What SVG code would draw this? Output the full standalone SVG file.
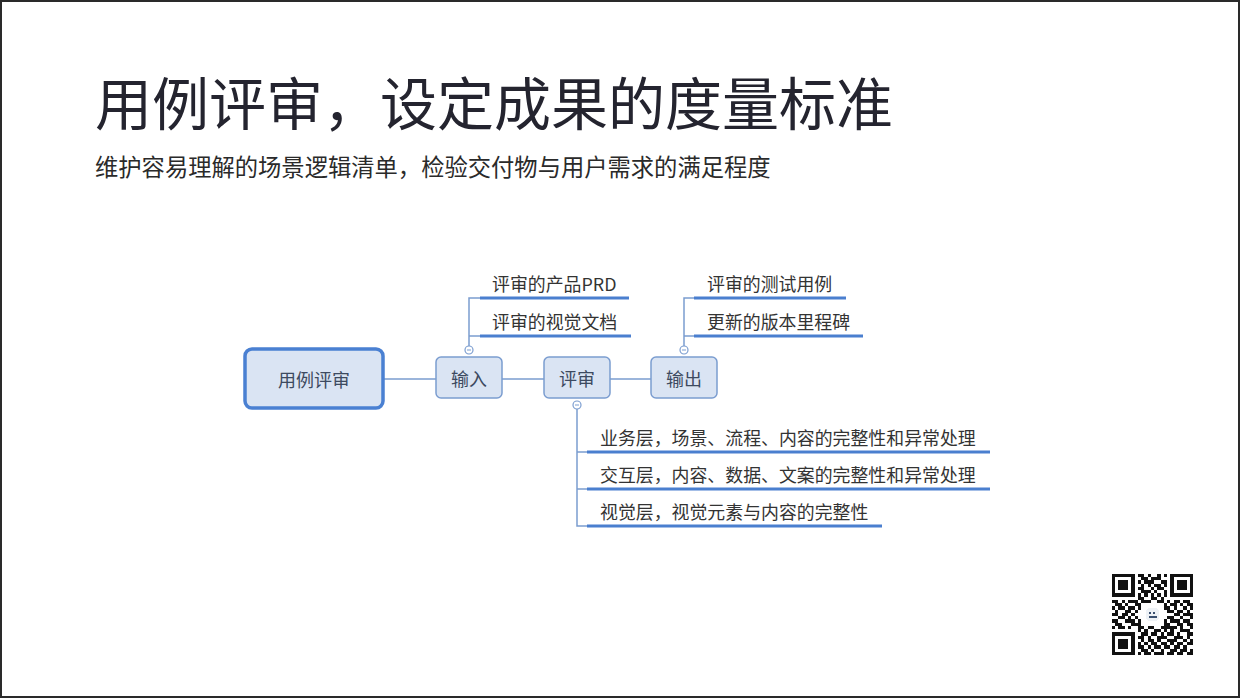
<svg xmlns="http://www.w3.org/2000/svg" width="1240" height="698" viewBox="0 0 1240 698">
<style>
.cjk{font-family:"Noto Sans CJK SC","Liberation Sans",sans-serif;}
.title{font-size:57px;fill:#24242f;}
.sub{font-size:23.3px;fill:#2a2a2a;}
.node rect{fill:#dae4f3;stroke:#7b9dd0;stroke-width:1.5;}
.node text{font-size:18px;fill:#3d4a60;text-anchor:middle;}
.main rect{stroke:#4a80d2;stroke-width:3.5;}
.lbl{font-size:17.9px;fill:#333;}
.thin{stroke:#7b9dd0;stroke-width:1.5;fill:none;}
.ul{stroke:#4a7fcf;stroke-width:3;}
.btn{fill:#fff;stroke:#7b9dd0;stroke-width:1.2;}
</style>
<rect x="0" y="0" width="1240" height="698" fill="#fff"/>
<rect x="1" y="1" width="1238" height="696" fill="none" stroke="#2a2a2a" stroke-width="2"/>

<text class="cjk title" x="95" y="125">用例评审，设定成果的度量标准</text>
<text class="cjk sub" x="95" y="176">维护容易理解的场景逻辑清单，检验交付物与用户需求的满足程度</text>

<g id="connectors">
  <path class="thin" d="M383 379H436M502 379H544M610 379H651"/>
  <path class="thin" d="M469 346V298H480M469 336H480"/>
  <path class="thin" d="M684 346V298H694M684 336H694"/>
  <path class="thin" d="M577 409V526H587M577 452H587M577 489H587"/>
  <g class="ul">
    <line x1="480" y1="298" x2="629" y2="298"/>
    <line x1="480" y1="336" x2="631" y2="336"/>
    <line x1="694" y1="298" x2="846" y2="298"/>
    <line x1="694" y1="336" x2="863" y2="336"/>
    <line x1="587" y1="452" x2="990" y2="452"/>
    <line x1="587" y1="489" x2="990" y2="489"/>
    <line x1="587" y1="526" x2="882" y2="526"/>
  </g>
  <g>
    <circle class="btn" cx="469" cy="350" r="4"/><line x1="467" y1="350" x2="471" y2="350" stroke="#7b9dd0" stroke-width="1"/>
    <circle class="btn" cx="684" cy="350" r="4"/><line x1="682" y1="350" x2="686" y2="350" stroke="#7b9dd0" stroke-width="1"/>
    <circle class="btn" cx="577" cy="405" r="4"/><line x1="575" y1="405" x2="579" y2="405" stroke="#7b9dd0" stroke-width="1"/>
  </g>
</g>

<g id="n-main" class="node main">
  <rect x="245" y="349" width="138" height="59" rx="7"/>
  <text class="cjk" x="314" y="387">用例评审</text>
</g>
<g id="n-input" class="node">
  <rect x="436" y="357" width="66" height="41" rx="5"/>
  <text class="cjk" x="469" y="386">输入</text>
</g>
<g id="n-review" class="node">
  <rect x="544" y="357" width="66" height="41" rx="5"/>
  <text class="cjk" x="577" y="386">评审</text>
</g>
<g id="n-output" class="node">
  <rect x="651" y="357" width="66" height="41" rx="5"/>
  <text class="cjk" x="684" y="386">输出</text>
</g>

<g id="l-prd"><text class="cjk lbl" x="492" y="291">评审的产品PRD</text></g>
<g id="l-visual"><text class="cjk lbl" x="492" y="329">评审的视觉文档</text></g>
<g id="l-test"><text class="cjk lbl" x="707" y="291">评审的测试用例</text></g>
<g id="l-version"><text class="cjk lbl" x="707" y="329">更新的版本里程碑</text></g>
<g id="l-biz"><text class="cjk lbl" x="600" y="445">业务层，场景、流程、内容的完整性和异常处理</text></g>
<g id="l-inter"><text class="cjk lbl" x="600" y="482">交互层，内容、数据、文案的完整性和异常处理</text></g>
<g id="l-vis"><text class="cjk lbl" x="600" y="519">视觉层，视觉元素与内容的完整性</text></g>

<g id="qr" transform="translate(1112 574) scale(3.24)" fill="#111" shape-rendering="crispEdges">
<path d="M0 0h7v1h-7zM8 0h2v1h-2zM11 0h1v1h-1zM14 0h1v1h-1zM16 0h1v1h-1zM18 0h7v1h-7z
M0 1h1v1h-1zM6 1h1v1h-1zM9 1h2v1h-2zM12 1h3v1h-3zM18 1h1v1h-1zM24 1h1v1h-1z
M0 2h1v1h-1zM2 2h3v1h-3zM6 2h1v1h-1zM8 2h1v1h-1zM10 2h3v1h-3zM15 2h2v1h-2zM18 2h1v1h-1zM20 2h3v1h-3zM24 2h1v1h-1z
M0 3h1v1h-1zM2 3h3v1h-3zM6 3h1v1h-1zM9 3h1v1h-1zM11 3h1v1h-1zM13 3h2v1h-2zM16 3h1v1h-1zM18 3h1v1h-1zM20 3h3v1h-3zM24 3h1v1h-1z
M0 4h1v1h-1zM2 4h3v1h-3zM6 4h1v1h-1zM8 4h2v1h-2zM12 4h1v1h-1zM14 4h2v1h-2zM18 4h1v1h-1zM20 4h3v1h-3zM24 4h1v1h-1z
M0 5h1v1h-1zM6 5h1v1h-1zM9 5h3v1h-3zM13 5h1v1h-1zM16 5h1v1h-1zM18 5h1v1h-1zM24 5h1v1h-1z
M0 6h7v1h-7zM8 6h1v1h-1zM10 6h1v1h-1zM12 6h1v1h-1zM14 6h1v1h-1zM16 6h1v1h-1zM18 6h7v1h-7z
M8 7h2v1h-2zM12 7h2v1h-2zM15 7h1v1h-1z
M0 8h2v1h-2zM3 8h1v1h-1zM5 8h3v1h-3zM9 8h3v1h-3zM14 8h2v1h-2zM17 8h1v1h-1zM19 8h2v1h-2zM22 8h2v1h-2z
M1 9h2v1h-2zM4 9h1v1h-1zM7 9h2v1h-2zM16 9h1v1h-1zM18 9h2v1h-2zM21 9h1v1h-1zM23 9h2v1h-2z
M0 10h1v1h-1zM2 10h2v1h-2zM5 10h2v1h-2zM8 10h1v1h-1zM16 10h2v1h-2zM19 10h1v1h-1zM22 10h1v1h-1zM24 10h1v1h-1z
M1 11h1v1h-1zM4 11h2v1h-2zM7 11h1v1h-1zM17 11h2v1h-2zM20 11h2v1h-2zM23 11h1v1h-1z
M0 12h2v1h-2zM3 12h2v1h-2zM6 12h1v1h-1zM19 12h2v1h-2zM22 12h3v1h-3z
M2 13h2v1h-2zM5 13h1v1h-1zM7 13h1v1h-1zM17 13h2v1h-2zM21 13h1v1h-1zM24 13h1v1h-1z
M0 14h2v1h-2zM4 14h3v1h-3zM8 14h1v1h-1zM16 14h1v1h-1zM18 14h3v1h-3zM22 14h2v1h-2z
M1 15h2v1h-2zM6 15h3v1h-3zM16 15h2v1h-2zM20 15h2v1h-2zM23 15h2v1h-2z
M0 16h1v1h-1zM2 16h2v1h-2zM5 16h1v1h-1zM8 16h2v1h-2zM11 16h2v1h-2zM15 16h5v1h-5zM21 16h1v1h-1zM24 16h1v1h-1z
M8 17h1v1h-1zM10 17h1v1h-1zM13 17h2v1h-2zM16 17h1v1h-1zM18 17h1v1h-1zM21 17h3v1h-3z
M0 18h7v1h-7zM9 18h2v1h-2zM12 18h2v1h-2zM15 18h1v1h-1zM17 18h2v1h-2zM20 18h1v1h-1zM23 18h2v1h-2z
M0 19h1v1h-1zM6 19h1v1h-1zM8 19h2v1h-2zM11 19h1v1h-1zM14 19h3v1h-3zM19 19h3v1h-3zM23 19h1v1h-1z
M0 20h1v1h-1zM2 20h3v1h-3zM6 20h1v1h-1zM9 20h1v1h-1zM11 20h2v1h-2zM14 20h1v1h-1zM17 20h3v1h-3zM22 20h1v1h-1zM24 20h1v1h-1z
M0 21h1v1h-1zM2 21h3v1h-3zM6 21h1v1h-1zM8 21h1v1h-1zM10 21h1v1h-1zM12 21h2v1h-2zM15 21h2v1h-2zM18 21h1v1h-1zM20 21h2v1h-2zM23 21h2v1h-2z
M0 22h1v1h-1zM2 22h3v1h-3zM6 22h1v1h-1zM8 22h2v1h-2zM11 22h1v1h-1zM13 22h2v1h-2zM16 22h2v1h-2zM19 22h2v1h-2zM22 22h1v1h-1z
M0 23h1v1h-1zM6 23h1v1h-1zM9 23h2v1h-2zM12 23h1v1h-1zM15 23h1v1h-1zM18 23h2v1h-2zM21 23h2v1h-2zM24 23h1v1h-1z
M0 24h7v1h-7zM8 24h1v1h-1zM10 24h2v1h-2zM13 24h3v1h-3zM17 24h2v1h-2zM20 24h2v1h-2zM23 24h2v1h-2z"/>
<rect x="10.6" y="10.6" width="3.8" height="3.8" rx="0.6" fill="#eef2f6"/>
<rect x="11.4" y="11.6" width="0.7" height="0.7" fill="#3a5070"/>
<rect x="12.6" y="11.6" width="0.7" height="0.7" fill="#3a5070"/>
<rect x="11.4" y="13.1" width="2.4" height="0.4" fill="#3a5070"/>
</g>
</svg>
